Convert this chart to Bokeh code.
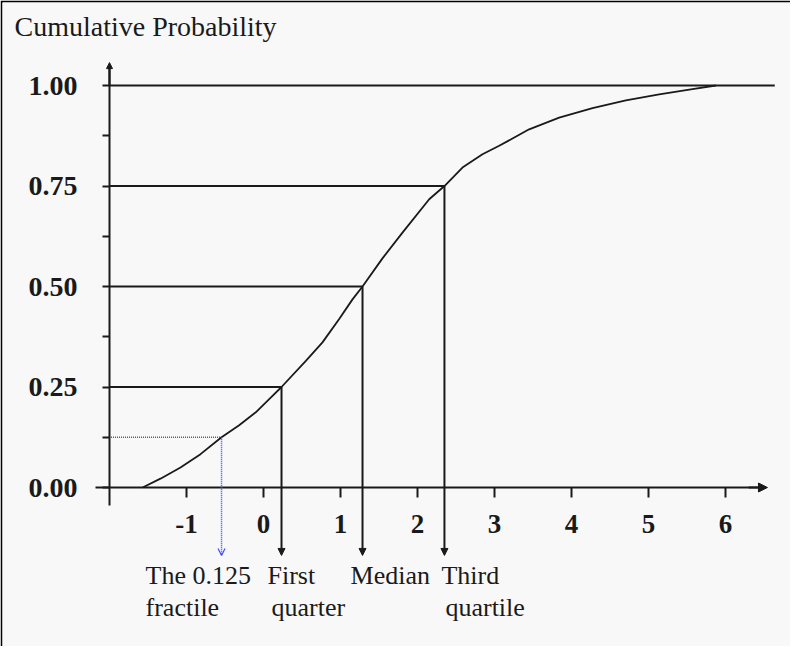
import numpy as np
from bokeh.plotting import figure
from bokeh.models import (LinearAxis, FixedTicker, PrintfTickFormatter, Arrow,
                          NormalHead, OpenHead, Label, Range1d, ColumnDataSource)
from bokeh.embed import file_html
from bokeh.resources import INLINE
from bokeh.core.properties import value

# ---------------- data ----------------
curve_x = [-1.57, -1.338, -1.078, -0.818, -0.545, -0.316, -0.100, 0.074, 0.234,
           0.550, 0.766, 0.983, 1.156, 1.286, 1.545, 1.805, 2.152, 2.35,
           2.584, 2.844, 3.061, 3.45, 3.84, 4.273, 4.706, 5.139, 5.571, 5.874]
curve_y = [0.0, 0.022, 0.050, 0.083, 0.125, 0.155, 0.187, 0.220, 0.25,
           0.315, 0.361, 0.419, 0.468, 0.5, 0.570, 0.634, 0.717, 0.75,
           0.796, 0.829, 0.850, 0.891, 0.920, 0.944, 0.963, 0.978, 0.991, 1.0]

quantile_levels = [0.125, 0.25, 0.5, 0.75]
quantile_x = [-0.545, 0.234, 1.286, 2.35]
label_line1 = ["The 0.125", "First", "Median", "Third"]
label_line2 = ["fractile", "quarter", "", "quartile"]

x_ticks = [-1, 0, 1, 2, 3, 4, 5, 6]
y_ticks = [0.0, 0.25, 0.5, 0.75, 1.0]
y_minor_ticks = [0.125, 0.375, 0.625, 0.875]
y_title = "Cumulative Probability"

# ---------------- layout ----------------
FONT = "Liberation Serif"
INK = "#1a1a1a"
BLUE = "#3a4cff"
W, H = 790, 646
y_axis_at = -2.0
arrow_bottom = -0.169

p = figure(width=W, height=H, output_backend="svg", toolbar_location=None,
           x_range=Range1d(-3.3896, 6.8442), y_range=Range1d(-0.3955, 1.2065),
           x_axis_type=None, y_axis_type=None,
           min_border_left=2, min_border_top=2, min_border_right=0, min_border_bottom=0,
           background_fill_color="#f8f8f8", border_fill_color="black",
           outline_line_color=None)

xaxis = LinearAxis(fixed_location=0, bounds=(-2.18, 6.5),
                   ticker=FixedTicker(ticks=x_ticks),
                   formatter=PrintfTickFormatter(format="%d"))
xaxis.axis_line_color = INK
xaxis.axis_line_width = 2
xaxis.major_tick_line_color = INK
xaxis.major_tick_line_width = 2
xaxis.major_tick_out = 10
xaxis.major_tick_in = 0
xaxis.minor_tick_line_color = None
xaxis.major_label_text_font = FONT
xaxis.major_label_text_font_style = "bold"
xaxis.major_label_text_font_size = "27px"
xaxis.major_label_text_color = INK
xaxis.major_label_standoff = 17
p.add_layout(xaxis, "below")

yaxis = LinearAxis(fixed_location=y_axis_at, bounds=(-0.045, 1.05),
                   ticker=FixedTicker(ticks=y_ticks, minor_ticks=y_minor_ticks),
                   formatter=PrintfTickFormatter(format="%.2f"))
yaxis.axis_line_color = INK
yaxis.axis_line_width = 2
yaxis.major_tick_line_color = INK
yaxis.major_tick_line_width = 2
yaxis.major_tick_out = 7
yaxis.major_tick_in = 0
yaxis.minor_tick_line_color = INK
yaxis.minor_tick_line_width = 2
yaxis.minor_tick_out = 7
yaxis.minor_tick_in = 0
yaxis.major_label_text_font = FONT
yaxis.major_label_text_font_style = "bold"
yaxis.major_label_text_font_size = "28px"
yaxis.major_label_text_color = INK
yaxis.major_label_standoff = 25
p.add_layout(yaxis, "left")

# axis arrowheads
p.add_layout(Arrow(x_start=6.3, y_start=0, x_end=6.545, y_end=0, line_color=INK, line_width=2,
                   end=NormalHead(size=9, fill_color=INK, line_color=INK)))
p.add_layout(Arrow(x_start=y_axis_at, y_start=1.0, x_end=y_axis_at, y_end=1.057, line_color=INK,
                   line_width=2, end=NormalHead(size=6, fill_color=INK, line_color=INK)))

# horizontal guide lines at the quartiles and at 1.00
p.segment(x0=[y_axis_at] * 3, y0=quantile_levels[1:], x1=quantile_x[1:], y1=quantile_levels[1:],
          line_color=INK, line_width=2)
p.segment(x0=[y_axis_at], y0=[1.0], x1=[6.64], y1=[1.0], line_color=INK, line_width=2)

# blue dotted guide for the 0.125 fractile
p.segment(x0=[y_axis_at + 0.02], y0=quantile_levels[:1], x1=quantile_x[:1], y1=quantile_levels[:1],
          line_color=BLUE, line_width=1.5, line_dash="1 1")

# the CDF curve
p.line(curve_x, curve_y, line_color=INK, line_width=1.8)

# vertical arrows down to the labels
black_src = ColumnDataSource(dict(x=quantile_x[1:], y0=quantile_levels[1:],
                                  y1=[arrow_bottom] * 3))
p.add_layout(Arrow(source=black_src, x_start="x", y_start="y0", x_end="x", y_end="y1",
                   line_color=INK, line_width=2,
                   end=NormalHead(size=7, fill_color=INK, line_color=INK)))
blue_src = ColumnDataSource(dict(x=quantile_x[:1], y0=quantile_levels[:1], y1=[arrow_bottom]))
p.add_layout(Arrow(source=blue_src, x_start="x", y_start="y0", x_end="x", y_end="y1",
                   line_color=BLUE, line_width=1.5, line_dash="1 1",
                   end=OpenHead(size=7, line_color=BLUE, line_width=1.2)))

# labels under the arrows
lab_src = ColumnDataSource(dict(x=quantile_x, t1=label_line1, t2=label_line2,
                                y1=[-0.2201] * 4, y2=[-0.2973] * 4,
                                dx1=[-76, -14, -12, -3], dx2=[-76, -10, 0, 1]))
p.text(x="x", y="y1", text="t1", x_offset="dx1", source=lab_src,
       text_font=value(FONT), text_font_size="26px", text_color=INK,
       text_align="left", text_baseline="middle")
p.text(x="x", y="y2", text="t2", x_offset="dx2", source=lab_src,
       text_font=value(FONT), text_font_size="26px", text_color=INK,
       text_align="left", text_baseline="middle")

# y title
p.add_layout(Label(x=-3.234, y=1.1458, text=y_title, text_font=FONT, text_font_size="28px",
                   text_color=INK, text_baseline="middle", text_align="left"))

open("out.html", "w").write(file_html(p, INLINE))
